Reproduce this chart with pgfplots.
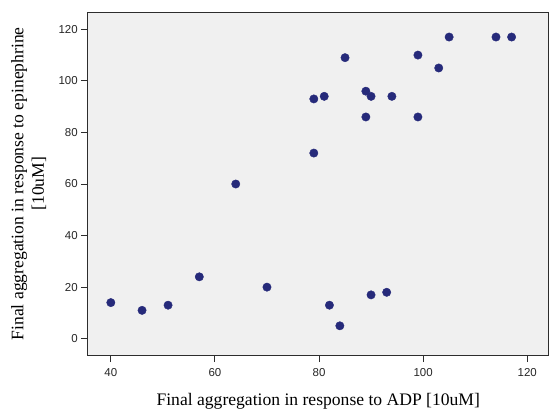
\documentclass[border=0pt]{standalone}
\usepackage{fontspec}
\setmainfont{Liberation Serif}
\setsansfont{Liberation Sans}
\usepackage{pgfplots}
\pgfplotsset{compat=1.18}
\definecolor{bgfill}{RGB}{240,240,240}
\definecolor{dotblue}{RGB}{38,42,122}
\definecolor{axisgray}{RGB}{45,45,45}
\begin{document}
\begin{tikzpicture}
  \begin{axis}[
      scale only axis,
      width=461bp, height=343.2bp,
      xmin=35.6, xmax=124.1,
      ymin=-6.4, ymax=126.6,
      xtick={40,60,...,120},
      ytick={0,20,...,120},
      axis background/.style={fill=bgfill},
      axis line style={axisgray, line width=0.9pt},
      tick style={axisgray, line width=0.9pt},
      tick align=outside,
      major tick length=7bp,
      xtick pos=bottom, ytick pos=left,
      /pgf/number format/assume math mode=true,
      tick label style={font=\sffamily\fontsize{11.5bp}{13bp}\selectfont, text=black!85},
      xticklabel style={anchor=north, inner sep=0pt, yshift=-6bp},
      yticklabel style={anchor=east, inner sep=0pt, xshift=-3bp},
      xlabel={Final aggregation in response to ADP [10uM]},
      ylabel={Final aggregation in response to epinephrine\\{}[10uM]},
      xlabel style={at={(axis description cs:0.5,-0.1475)}, anchor=base, inner sep=0pt,
                    font=\fontsize{17.6bp}{20.5bp}\selectfont},
      ylabel style={at={(axis description cs:-0.167,0.5)}, anchor=north, rotate=0,
                    inner sep=0pt, align=center,
                    font=\fontsize{17.6bp}{20.5bp}\selectfont},
    ]
    \addplot[only marks, mark=*, mark size=4.2bp,
             mark options={draw=dotblue, fill=dotblue}] coordinates {
      (40,14) (46,11) (51,13) (57,24) (70,20) (64,60)
      (79,72) (79,93) (81,94) (85,109) (89,96) (90,94)
      (94,94) (89,86) (99,86) (99,110) (103,105) (105,117)
      (114,117) (117,117) (82,13) (84,5) (90,17) (93,18)
    };
  \end{axis}
  \useasboundingbox (-88bp,-55.5bp) rectangle (461bp,355.5bp);
\end{tikzpicture}
\end{document}
